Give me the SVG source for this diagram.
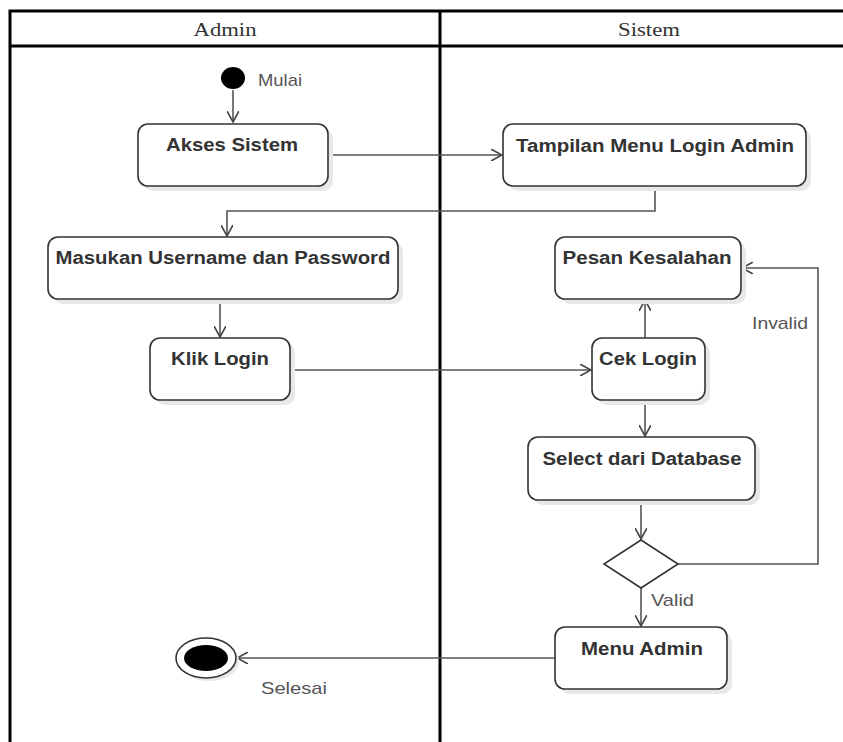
<svg xmlns="http://www.w3.org/2000/svg" width="843" height="742" viewBox="0 0 843 742">
<style>
.lane{fill:none;stroke:#000;stroke-width:3}
.hdr{font-family:"Liberation Serif",serif;font-size:19px;fill:#333;text-anchor:middle}
.box{fill:#fff;stroke:#333;stroke-width:1.6}
.shadow{fill:#e8e8e8}
.lbl{font-family:"Liberation Sans",Arial,sans-serif;font-size:18px;font-weight:bold;fill:#333;text-anchor:middle}
.note{font-family:"Liberation Sans",Arial,sans-serif;font-size:17px;fill:#555}
.edge{fill:none;stroke:#555;stroke-width:1.6}
</style>
<defs>
<marker id="arr" viewBox="0 0 12 12" refX="11" refY="6" markerWidth="12" markerHeight="12" markerUnits="userSpaceOnUse" orient="auto">
<path d="M0,0 L11,6 L0,12" fill="none" stroke="#444" stroke-width="1.6"/>
</marker>
</defs>
<rect width="843" height="742" fill="#fff"/>
<g id="lanes">
<path class="lane" d="M10,742 V11 H843"/>
<path class="lane" d="M10,46 H843"/>
<path class="lane" d="M440,11 V742"/>
<text class="hdr" x="225" y="36" textLength="63" lengthAdjust="spacingAndGlyphs">Admin</text>
<text class="hdr" x="649" y="36" textLength="62" lengthAdjust="spacingAndGlyphs">Sistem</text>
</g>
<g id="connectors">
<path class="edge" d="M233,90 V122" marker-end="url(#arr)"/>
<path class="edge" d="M328,155 H502" marker-end="url(#arr)"/>
<path class="edge" d="M655,186 V211 H227 V236" marker-end="url(#arr)"/>
<path class="edge" d="M220,299 V337" marker-end="url(#arr)"/>
<path class="edge" d="M290,370 H591" marker-end="url(#arr)"/>
<path class="edge" d="M645,338 V300" marker-end="url(#arr)"/>
<path class="edge" d="M645,400 V436" marker-end="url(#arr)"/>
<path class="edge" d="M641,500 V539" marker-end="url(#arr)"/>
<path class="edge" d="M678,564 H818 V268 H742" marker-end="url(#arr)"/>
<path class="edge" d="M641,588 V626" marker-end="url(#arr)"/>
<path class="edge" d="M555,658 H237" marker-end="url(#arr)"/>
<text class="note" x="752" y="329" textLength="56" lengthAdjust="spacingAndGlyphs">Invalid</text>
<text class="note" x="651" y="606" textLength="43" lengthAdjust="spacingAndGlyphs">Valid</text>
</g>
<g id="start">
<ellipse cx="233" cy="78" rx="12" ry="11" fill="#000"/>
<text class="note" x="258" y="86" textLength="44" lengthAdjust="spacingAndGlyphs">Mulai</text>
</g>
<g id="akses">
<rect class="shadow" x="143" y="129" width="190" height="62" rx="10"/>
<rect class="box" x="138" y="124" width="190" height="62" rx="10"/>
<text class="lbl" x="232" y="151" textLength="132" lengthAdjust="spacingAndGlyphs">Akses Sistem</text>
</g>
<g id="tampilan">
<rect class="shadow" x="508" y="129" width="303" height="62" rx="10"/>
<rect class="box" x="503" y="124" width="303" height="62" rx="10"/>
<text class="lbl" x="655" y="152" textLength="278" lengthAdjust="spacingAndGlyphs">Tampilan Menu Login Admin</text>
</g>
<g id="masukan">
<rect class="shadow" x="53" y="242" width="350" height="62" rx="10"/>
<rect class="box" x="48" y="237" width="350" height="62" rx="10"/>
<text class="lbl" x="223" y="264" textLength="335" lengthAdjust="spacingAndGlyphs">Masukan Username dan Password</text>
</g>
<g id="klik">
<rect class="shadow" x="155" y="343" width="140" height="62" rx="10"/>
<rect class="box" x="150" y="338" width="140" height="62" rx="10"/>
<text class="lbl" x="220" y="365" textLength="98" lengthAdjust="spacingAndGlyphs">Klik Login</text>
</g>
<g id="pesan">
<rect class="shadow" x="560" y="242" width="186" height="62" rx="10"/>
<rect class="box" x="555" y="237" width="186" height="62" rx="10"/>
<text class="lbl" x="647" y="264" textLength="169" lengthAdjust="spacingAndGlyphs">Pesan Kesalahan</text>
</g>
<g id="cek">
<rect class="shadow" x="597" y="343" width="113" height="62" rx="10"/>
<rect class="box" x="592" y="338" width="113" height="62" rx="10"/>
<text class="lbl" x="648" y="365" textLength="98" lengthAdjust="spacingAndGlyphs">Cek Login</text>
</g>
<g id="select">
<rect class="shadow" x="533" y="442" width="227" height="63" rx="10"/>
<rect class="box" x="528" y="437" width="227" height="63" rx="10"/>
<text class="lbl" x="642" y="465" textLength="199" lengthAdjust="spacingAndGlyphs">Select dari Database</text>
</g>
<g id="decision">
<path d="M641,540 L678,564 L641,588 L604,564 Z" fill="#fff" stroke="#333" stroke-width="1.6"/>
</g>
<g id="menu">
<rect class="shadow" x="560" y="632" width="172" height="62" rx="10"/>
<rect class="box" x="555" y="627" width="172" height="62" rx="10"/>
<text class="lbl" x="642" y="655" textLength="122" lengthAdjust="spacingAndGlyphs">Menu Admin</text>
</g>
<g id="end">
<ellipse cx="209" cy="661" rx="30" ry="20" fill="#e8e8e8"/>
<ellipse cx="206" cy="658" rx="30" ry="20" fill="#fff" stroke="#333" stroke-width="1.6"/>
<ellipse cx="206" cy="658" rx="22" ry="13" fill="#000"/>
<text class="note" x="261" y="694" textLength="66" lengthAdjust="spacingAndGlyphs">Selesai</text>
</g>
</svg>
